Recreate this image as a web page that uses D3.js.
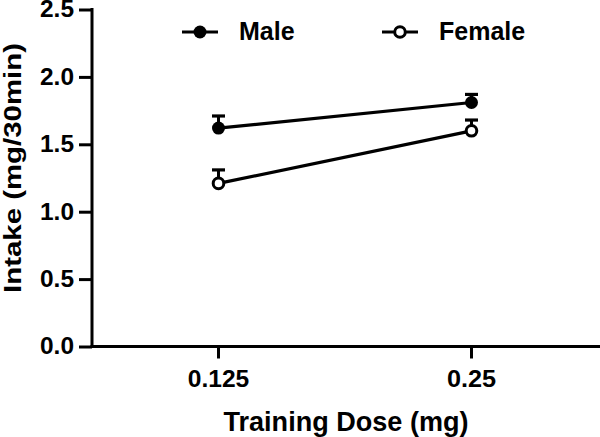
<!DOCTYPE html>
<html>
<head>
<meta charset="utf-8">
<script src="https://cdn.jsdelivr.net/npm/d3@7"></script>
<style>
  html, body { margin: 0; padding: 0; background: #fff; }
  svg { display: block; }
  text { font-family: "Liberation Sans", Arial, sans-serif; font-weight: bold; fill: #000; }
</style>
</head>
<body>
<svg id="chart" width="600" height="437"></svg>
<script>
// ---- data ----
const doses = ["0.125", "0.25"];
const maleMean = [1.62, 1.81];
const maleSem = [0.09, 0.06];
const femaleMean = [1.21, 1.60];
const femaleSem = [0.10, 0.08];
const yTicks = [0, 0.5, 1.0, 1.5, 2.0, 2.5];
const seriesNames = ["Male", "Female"];

const series = [
  { name: seriesNames[0], mean: maleMean, sem: maleSem, filled: true },
  { name: seriesNames[1], mean: femaleMean, sem: femaleSem, filled: false }
];

const svg = d3.select("#chart");
const x = d3.scaleBand().domain(doses).range([92, 598]);
const y = d3.scaleLinear().domain([0, 2.5]).range([346.5, 9.5]);
const cx = d => x(d) + x.bandwidth() / 2;

// Axes
const yAxis = svg.append("g").attr("transform", "translate(92,0)")
  .call(d3.axisLeft(y).tickValues(yTicks).tickFormat(d3.format(".1f")).tickSize(13).tickPadding(5));
const xAxis = svg.append("g").attr("transform", "translate(0,346.5)")
  .call(d3.axisBottom(x).tickSize(12).tickPadding(12));

[yAxis, xAxis].forEach(g => {
  g.attr("font-size", null).attr("font-family", null);
  g.select(".domain").remove();
  g.selectAll(".tick line").attr("stroke", "#000").attr("stroke-width", 3);
  g.selectAll(".tick text").style("font-size", "23px").style("font-weight", "bold").attr("fill", "#000")
    .attr("lengthAdjust", "spacingAndGlyphs");
});
// glyphs in the reference are slightly wider than Liberation Sans at this cap height
yAxis.selectAll(".tick text").attr("textLength", 34);
xAxis.selectAll(".tick text").attr("textLength", d => d.length * 12.3).attr("dy", "0.71em");

// axis lines
svg.append("line").attr("x1", 92).attr("x2", 92).attr("y1", y(2.5) - 1.5).attr("y2", y(0) + 1.5)
  .attr("stroke", "#000").attr("stroke-width", 3);
svg.append("line").attr("x1", 90.5).attr("x2", 600).attr("y1", y(0)).attr("y2", y(0))
  .attr("stroke", "#000").attr("stroke-width", 3);

// Axis titles
svg.append("text").attr("x", 346).attr("y", 431).attr("text-anchor", "middle")
  .attr("textLength", 245).attr("lengthAdjust", "spacingAndGlyphs")
  .style("font-size", "27px").text("Training Dose (mg)");
svg.append("text").attr("transform", "translate(21,168) rotate(-90)").attr("text-anchor", "middle")
  .attr("textLength", 250).attr("lengthAdjust", "spacingAndGlyphs")
  .style("font-size", "24px").text("Intake (mg/30min)");

// Series
const line = d3.line().x((d, i) => cx(doses[i])).y(d => y(d));
series.forEach(s => {
  const g = svg.append("g");
  g.append("path").attr("d", line(s.mean)).attr("fill", "none").attr("stroke", "#000").attr("stroke-width", 3.2);
  doses.forEach((d, i) => {
    const px = cx(d), top = y(s.mean[i] + s.sem[i]);
    g.append("line").attr("x1", px).attr("x2", px).attr("y1", y(s.mean[i])).attr("y2", top)
      .attr("stroke", "#000").attr("stroke-width", 3);
    g.append("line").attr("x1", px - 6.5).attr("x2", px + 6.5).attr("y1", top).attr("y2", top)
      .attr("stroke", "#000").attr("stroke-width", 3.2);
  });
  doses.forEach((d, i) => {
    g.append("circle").attr("cx", cx(d)).attr("cy", y(s.mean[i]))
      .attr("r", s.filled ? 6.5 : 5.3)
      .attr("fill", s.filled ? "#000" : "#fff")
      .attr("stroke", "#000").attr("stroke-width", s.filled ? 0 : 3);
  });
});

// Legend
const legendX = [200, 400];
series.forEach((s, i) => {
  const lx = legendX[i], ly = 32;
  svg.append("line").attr("x1", lx - 18).attr("x2", lx + 18).attr("y1", ly).attr("y2", ly)
    .attr("stroke", "#000").attr("stroke-width", 3);
  svg.append("circle").attr("cx", lx).attr("cy", ly).attr("r", s.filled ? 6.5 : 5.3)
    .attr("fill", s.filled ? "#000" : "#fff").attr("stroke", "#000").attr("stroke-width", s.filled ? 0 : 3);
  svg.append("text").attr("x", lx + 39).attr("y", 40).style("font-size", "25px").text(s.name);
});
</script>
</body>
</html>
